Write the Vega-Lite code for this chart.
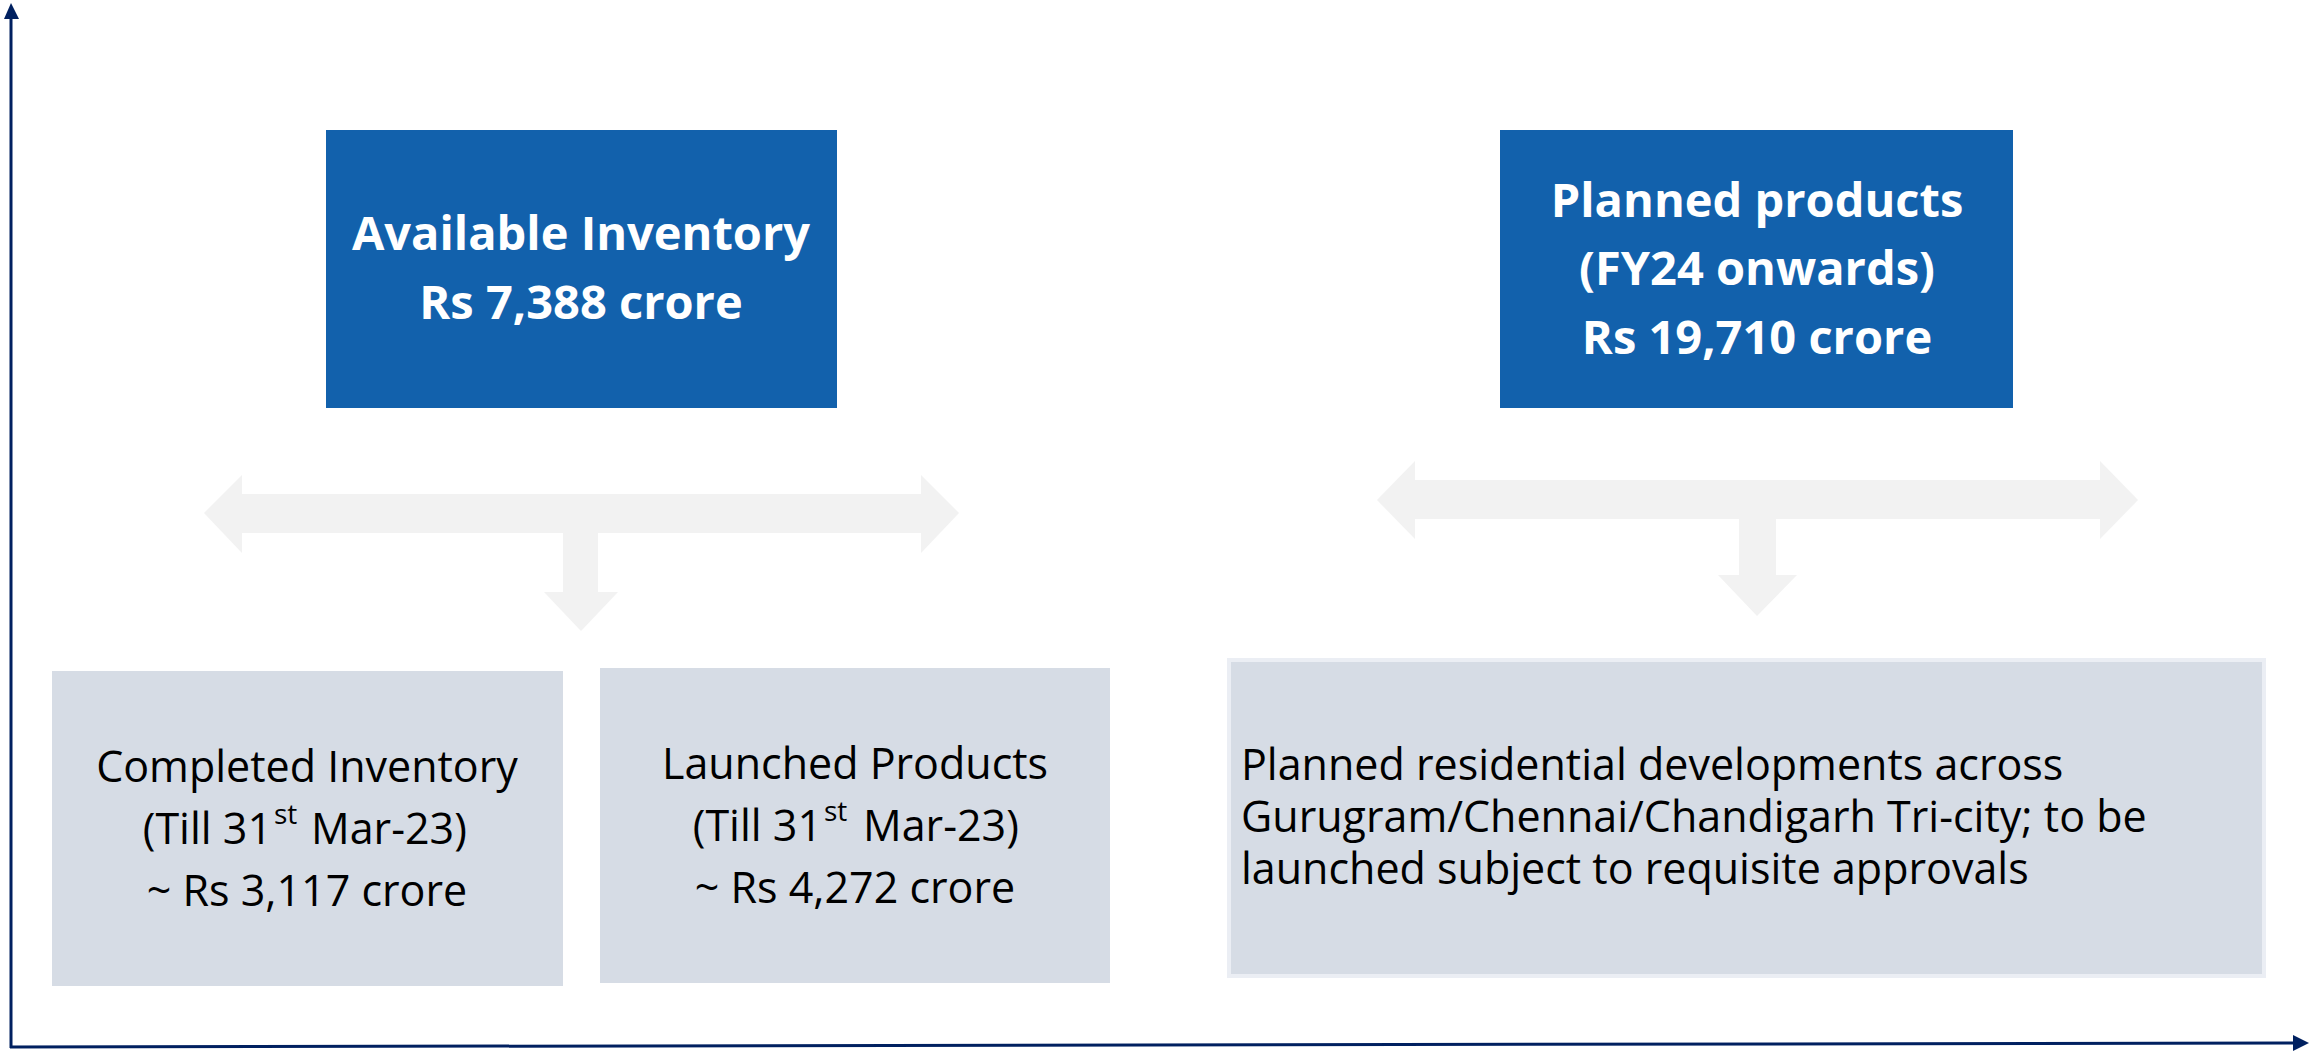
{
  "$schema": "https://vega.github.io/schema/vega-lite/v6.json",
  "width": 2311,
  "height": 1051,
  "padding": 0,
  "autosize": {"type": "fit", "contains": "padding"},
  "background": "white",
  "config": {"view": {"stroke": null}},
  "datasets": {
    "boxes": [
      {"name": "Available Inventory", "x": 326, "x2": 837, "y": 130, "y2": 408, "kind": "blue"},
      {"name": "Planned products", "x": 1500, "x2": 2013, "y": 130, "y2": 408, "kind": "blue"},
      {"name": "Completed Inventory", "x": 52, "x2": 563, "y": 671, "y2": 986, "kind": "grey"},
      {"name": "Launched Products", "x": 600, "x2": 1110, "y": 668, "y2": 983, "kind": "grey"},
      {"name": "Planned border", "x": 1227, "x2": 2266, "y": 658, "y2": 978, "kind": "border"},
      {"name": "Planned residential", "x": 1231, "x2": 2262, "y": 662, "y2": 974, "kind": "grey"},
      {"name": "left shaft", "x": 240, "x2": 923, "y": 494, "y2": 533, "kind": "arrow"},
      {"name": "left stem", "x": 563, "x2": 598, "y": 530, "y2": 594, "kind": "arrow"},
      {"name": "right shaft", "x": 1413, "x2": 2102, "y": 480, "y2": 519, "kind": "arrow"},
      {"name": "right stem", "x": 1739, "x2": 1776, "y": 516, "y2": 577, "kind": "arrow"}
    ],
    "heads": [
      {"id": "L1", "x": 204, "y": 513, "y2": 513},
      {"id": "L1", "x": 242, "y": 475, "y2": 553},
      {"id": "R1", "x": 921, "y": 475, "y2": 553},
      {"id": "R1", "x": 959, "y": 513, "y2": 513},
      {"id": "L2", "x": 1377, "y": 500, "y2": 500},
      {"id": "L2", "x": 1415, "y": 461, "y2": 539},
      {"id": "R2", "x": 2100, "y": 461, "y2": 539},
      {"id": "R2", "x": 2138, "y": 500, "y2": 500}
    ],
    "downheads": [
      {"id": "D1", "y": 592, "x": 544, "x2": 618},
      {"id": "D1", "y": 631, "x": 581, "x2": 581},
      {"id": "D2", "y": 575, "x": 1718, "x2": 1797},
      {"id": "D2", "y": 616, "x": 1757, "x2": 1757}
    ],
    "axisLines": [
      {"name": "y axis", "x": 11, "y": 17, "x2": 11, "y2": 1048},
      {"name": "x axis", "x": 10, "y": 1047, "x2": 2295, "y2": 1043}
    ],
    "upHead": [
      {"y": 3, "x": 11, "x2": 11},
      {"y": 19, "x": 4, "x2": 19}
    ],
    "rightHead": [
      {"x": 2293, "y": 1035, "y2": 1051},
      {"x": 2309, "y": 1043, "y2": 1043}
    ],
    "boldText": [
      {"text": "Available Inventory", "x": 581, "y": 236},
      {"text": "Rs 7,388 crore", "x": 581, "y": 305},
      {"text": "Planned products", "x": 1757, "y": 203},
      {"text": "(FY24 onwards)", "x": 1757, "y": 271},
      {"text": "Rs 19,710 crore", "x": 1757, "y": 340}
    ],
    "centerText": [
      {"text": "Completed Inventory", "x": 307, "y": 769},
      {"text": "~ Rs 3,117 crore", "x": 307, "y": 893},
      {"text": "Launched Products", "x": 855, "y": 766},
      {"text": "~ Rs 4,272 crore", "x": 855, "y": 890}
    ],
    "rightText": [
      {"text": "(Till 31", "x": 272, "y": 831},
      {"text": "(Till 31", "x": 822, "y": 828}
    ],
    "supText": [
      {"text": "st", "x": 274, "y": 816},
      {"text": "st", "x": 824, "y": 813}
    ],
    "leftText": [
      {"text": "Mar-23)", "x": 311, "y": 831},
      {"text": "Mar-23)", "x": 863, "y": 828},
      {"text": "Planned residential developments across", "x": 1241, "y": 767},
      {"text": "Gurugram/Chennai/Chandigarh Tri-city; to be", "x": 1241, "y": 819},
      {"text": "launched subject to requisite approvals", "x": 1241, "y": 871}
    ]
  },
  "layer": [
    {
      "data": {"name": "boxes"},
      "mark": {"type": "rect"},
      "encoding": {
        "x": {"field": "x", "type": "quantitative", "scale": {"domain": [0, 2311], "nice": false, "zero": false}, "axis": null},
        "x2": {"field": "x2"},
        "y": {"field": "y", "type": "quantitative", "scale": {"domain": [0, 1051], "reverse": true, "nice": false, "zero": false}, "axis": null},
        "y2": {"field": "y2"},
        "color": {"field": "kind", "type": "nominal", "legend": null,
          "scale": {"domain": ["blue", "grey", "border", "arrow"], "range": ["#1261AC", "#D6DCE5", "#EBEEF4", "#F2F2F2"]}}
      }
    },
    {
      "data": {"name": "heads"},
      "mark": {"type": "area", "color": "#F2F2F2", "orient": "vertical"},
      "encoding": {
        "x": {"field": "x", "type": "quantitative"},
        "y": {"field": "y", "type": "quantitative"},
        "y2": {"field": "y2"},
        "detail": {"field": "id"}
      }
    },
    {
      "data": {"name": "downheads"},
      "mark": {"type": "area", "color": "#F2F2F2", "orient": "horizontal"},
      "encoding": {
        "y": {"field": "y", "type": "quantitative"},
        "x": {"field": "x", "type": "quantitative"},
        "x2": {"field": "x2"},
        "detail": {"field": "id"}
      }
    },
    {
      "data": {"name": "axisLines"},
      "mark": {"type": "rule", "color": "#002060", "strokeWidth": 3},
      "encoding": {
        "x": {"field": "x", "type": "quantitative"},
        "y": {"field": "y", "type": "quantitative"},
        "x2": {"field": "x2"},
        "y2": {"field": "y2"}
      }
    },
    {
      "data": {"name": "upHead"},
      "mark": {"type": "area", "color": "#002060", "orient": "horizontal"},
      "encoding": {
        "y": {"field": "y", "type": "quantitative"},
        "x": {"field": "x", "type": "quantitative"},
        "x2": {"field": "x2"}
      }
    },
    {
      "data": {"name": "rightHead"},
      "mark": {"type": "area", "color": "#002060", "orient": "vertical"},
      "encoding": {
        "x": {"field": "x", "type": "quantitative"},
        "y": {"field": "y", "type": "quantitative"},
        "y2": {"field": "y2"}
      }
    },
    {
      "data": {"name": "boldText"},
      "mark": {"type": "text", "font": "Open Sans", "fontWeight": "bold", "fontSize": 47, "color": "white", "align": "center", "baseline": "middle"},
      "encoding": {
        "x": {"field": "x", "type": "quantitative"},
        "y": {"field": "y", "type": "quantitative"},
        "text": {"field": "text"}
      }
    },
    {
      "data": {"name": "centerText"},
      "mark": {"type": "text", "font": "Open Sans", "fontSize": 43, "color": "black", "align": "center", "baseline": "middle"},
      "encoding": {
        "x": {"field": "x", "type": "quantitative"},
        "y": {"field": "y", "type": "quantitative"},
        "text": {"field": "text"}
      }
    },
    {
      "data": {"name": "rightText"},
      "mark": {"type": "text", "font": "Open Sans", "fontSize": 43, "color": "black", "align": "right", "baseline": "middle"},
      "encoding": {
        "x": {"field": "x", "type": "quantitative"},
        "y": {"field": "y", "type": "quantitative"},
        "text": {"field": "text"}
      }
    },
    {
      "data": {"name": "supText"},
      "mark": {"type": "text", "font": "Open Sans", "fontSize": 28, "color": "black", "align": "left", "baseline": "middle"},
      "encoding": {
        "x": {"field": "x", "type": "quantitative"},
        "y": {"field": "y", "type": "quantitative"},
        "text": {"field": "text"}
      }
    },
    {
      "data": {"name": "leftText"},
      "mark": {"type": "text", "font": "Open Sans", "fontSize": 43, "color": "black", "align": "left", "baseline": "middle"},
      "encoding": {
        "x": {"field": "x", "type": "quantitative"},
        "y": {"field": "y", "type": "quantitative"},
        "text": {"field": "text"}
      }
    }
  ]
}
